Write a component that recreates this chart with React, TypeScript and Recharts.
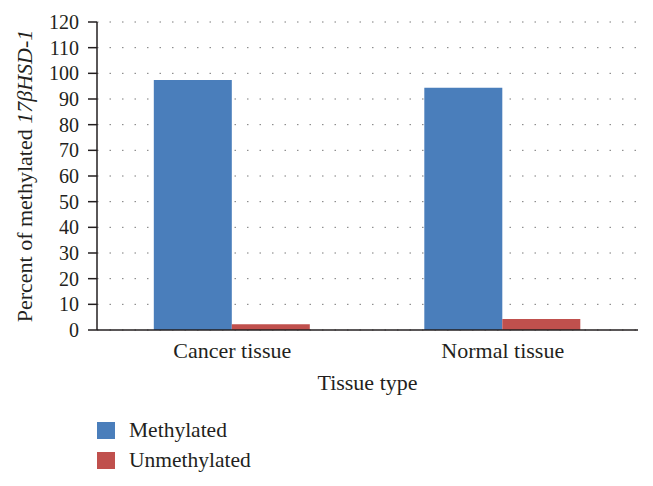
import { Bar, BarChart, CartesianGrid, XAxis, YAxis } from "recharts";

const categories = ["Cancer tissue", "Normal tissue"];
const methylated = [97.4, 94.4];
const unmethylated = [2.2, 4.3];
const yTicks = [0, 10, 20, 30, 40, 50, 60, 70, 80, 90, 100, 110, 120];

const SERIES = [
  { key: "methylated", name: "Methylated", color: "#4A7EBB" },
  { key: "unmethylated", name: "Unmethylated", color: "#C0504D" },
];

const FONT = '"Liberation Serif", "Times New Roman", serif';
const INK = "#231f20";

const data = categories.map((c, i) => ({
  tissue: c,
  methylated: methylated[i],
  unmethylated: unmethylated[i],
}));

function YTitle({ viewBox }: any) {
  const cy = viewBox.y + viewBox.height / 2;
  return (
    <text
      x={32}
      y={cy}
      transform={`rotate(-90, 32, ${cy})`}
      textAnchor="middle"
      fontFamily={FONT}
      fontSize={22}
      fill={INK}
    >
      Percent of methylated <tspan fontStyle="italic">17βHSD-1</tspan>
    </text>
  );
}

function XTitle({ viewBox }: any) {
  return (
    <text
      x={viewBox.x + viewBox.width / 2}
      y={viewBox.y + 60}
      textAnchor="middle"
      fontFamily={FONT}
      fontSize={22}
      fill={INK}
    >
      Tissue type
    </text>
  );
}

export default function App() {
  return (
    <div style={{ position: "absolute", left: 0, top: 0, width: 653, height: 486, background: "#fff" }}>
      <BarChart
        width={653}
        height={486}
        data={data}
        margin={{ top: 22, right: 15, bottom: 0, left: 0 }}
        barCategoryGap="21%"
        barGap={0}
      >
        <CartesianGrid
          vertical={false}
          stroke="#7a7a7a"
          strokeDasharray="1.5 11"
        />
        <XAxis
          dataKey="tissue"
          height={156}
          axisLine={{ stroke: INK, strokeWidth: 1.5 }}
          tickLine={false}
          tickSize={0}
          tickMargin={12}
          tick={{ fontFamily: FONT, fontSize: 22, fill: INK }}
          label={<XTitle />}
        />
        <YAxis
          width={97}
          domain={[0, 120]}
          ticks={yTicks}
          interval={0}
          axisLine={{ stroke: INK, strokeWidth: 1.5 }}
          tickLine={{ stroke: INK, strokeWidth: 1.5 }}
          tickSize={9}
          tickMargin={9}
          tick={{ fontFamily: FONT, fontSize: 20, fill: INK }}
          label={<YTitle />}
        />
        {SERIES.map((s) => (
          <Bar
            key={s.key}
            dataKey={s.key}
            name={s.name}
            fill={s.color}
            isAnimationActive={false}
          />
        ))}
      </BarChart>
      <div style={{ position: "absolute", left: 97, top: 415, fontFamily: FONT, fontSize: 21.5, color: INK }}>
        {SERIES.map((s) => (
          <div key={s.key} style={{ display: "flex", alignItems: "center", height: 30 }}>
            <span style={{ display: "inline-block", width: 18, height: 17, background: s.color, marginRight: 14 }} />
            <span>{s.name}</span>
          </div>
        ))}
      </div>
    </div>
  );
}
